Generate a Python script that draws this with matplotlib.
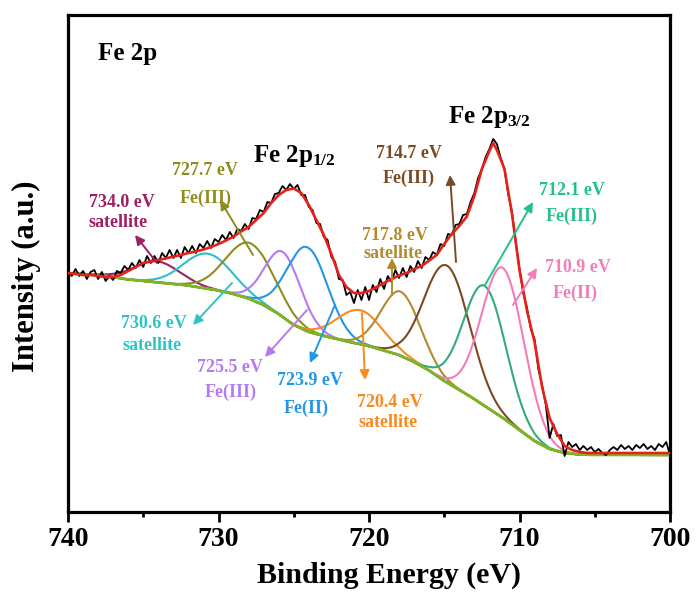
import numpy as np
import matplotlib
matplotlib.use("Agg")
import matplotlib.pyplot as plt

# ---------------- data ----------------
# Shirley-type background (height, arbitrary units) at 1 eV steps
bg_energy = [740, 739, 738, 737, 736, 735, 734, 733, 732, 731, 730, 729, 728, 727, 726,
             725, 724, 723, 722, 721, 720, 719, 718, 717, 716, 715, 714, 713, 712, 711,
             710, 709, 708, 707, 706, 705, 704, 703, 702, 701, 700]
bg_height = [239, 238, 237, 235, 232.5, 231, 229.5, 228, 226.5, 224, 221.5, 218, 213.5, 207, 198,
             187, 180, 176, 172.5, 169, 166, 161.5, 157, 150, 141.5, 131, 122, 113, 103, 93,
             82, 71, 63, 59, 57.5, 57, 57, 57, 57, 57, 57]

# fitted components: centre (eV), height above background, gaussian sigma (eV)
comp_value = ["734.0 eV", "730.6 eV", "727.7 eV", "725.5 eV", "723.9 eV",
              "720.4 eV", "717.8 eV", "714.7 eV", "712.1 eV", "710.9 eV"]
comp_state = ["satellite", "satellite", "Fe(III)", "Fe(III)", "Fe(II)",
              "satellite", "satellite", "Fe(III)", "Fe(III)", "Fe(II)"]
comp_center = [734.1, 730.7, 727.9, 725.7, 724.1, 720.6, 717.9, 714.8, 712.3, 711.1]
comp_height = [21, 35, 56, 65, 84, 34, 64, 117, 120, 150]
comp_sigma = [1.5, 1.6, 1.6, 1.2, 1.35, 1.5, 1.3, 1.5, 1.4, 1.4]

# fitted envelope (red)
env_energy = [740, 739.5, 739, 738.5, 738, 737.5, 737, 736.5, 736, 735.5, 735, 734.5, 734, 733.5,
              733, 732.5, 732, 731.5, 731, 730.5, 730, 729.5, 729, 728.5, 728, 727.5, 727, 726.5,
              726, 725.5, 725, 724.5, 724, 723.5, 723, 722.5, 722, 721.5, 721, 720.5, 720, 719.5,
              719, 718.5, 718, 717.5, 717, 716.5, 716, 715.5, 715, 714.5, 714, 713.5, 713, 712.5,
              712, 711.75, 711.5, 711, 710.5, 710, 709.5, 709, 708.5, 708, 707.5, 707, 706.5, 706,
              705.5, 705, 700]
env_height = [239, 238, 237, 237, 236, 235, 235, 237, 241, 245, 249, 250.5, 252, 253.5,
              255.5, 257, 259, 260.5, 262.5, 265, 268, 271.5, 275.5, 280.5, 285, 292, 299, 309,
              317, 322, 323.5, 319, 307, 292, 277, 258, 237, 225, 219, 219, 221, 225,
              229, 233, 236.5, 239, 243, 246, 251.5, 257, 268, 278, 286, 295.5, 316, 343,
              361, 369, 362, 343, 298, 242, 201, 170, 125, 94, 78, 66, 62, 60,
              59, 59, 59]

# raw spectrum (black), 0.25 eV steps from 740 to 700 eV
raw_energy = np.linspace(740, 700, 161)
raw_height = [241, 236, 243, 236, 241, 233, 240, 242, 233, 240, 231, 236, 232,
              241, 239, 246, 242, 249, 244, 252, 245, 256, 249, 256, 249,
              259, 254, 262, 254, 262, 254, 265, 259, 266, 259, 268, 264,
              271, 264, 273, 270, 277, 272, 280, 274, 283, 281, 288, 283,
              294, 293, 302, 300, 310, 309, 318, 319, 326, 322, 328, 323,
              327, 317, 317, 305, 302, 289, 288, 275, 272, 255, 250, 233,
              232, 217, 220, 209, 222, 212, 225, 212, 227, 220, 233, 223,
              236, 230, 242, 234, 244, 235, 246, 240, 251, 244, 255, 252,
              260, 257, 268, 266, 278, 277, 287, 288, 297, 298, 310, 319,
              334, 343, 355, 363, 373, 368, 354, 343, 318, 300, 270, 243,
              219, 204, 183, 173, 143, 127, 107, 74, 88, 76, 77, 56,
              70, 65, 68, 62, 66, 62, 65, 60, 63, 59, 57, 62,
              65, 62, 67, 63, 66, 62, 67, 64, 68, 63, 66, 62,
              68, 65, 70, 57]

x_ticks = [740, 730, 720, 710, 700]

# ---------------- styling ----------------
curve_colors = ["#9E1F63", "#2EBFCB", "#8E8E1E", "#B57BEE", "#2396E8",
                "#F98A1F", "#B38B2E", "#7A4B22", "#35AA7C", "#F27DB8"]
label_colors = ["#9E1F63", "#2EC4C4", "#8E8E1E", "#B57BEE", "#2396E8",
                "#F98A1F", "#B38B2E", "#7A4B22", "#25C08A", "#F27DB8"]
bg_color = "#7DB71F"

plt.rcParams["font.family"] = ["Liberation Serif", "DejaVu Serif"]
plt.rcParams["font.weight"] = "bold"
plt.rcParams["mathtext.fontset"] = "custom"
plt.rcParams["mathtext.rm"] = "Liberation Serif:bold"
plt.rcParams["mathtext.bf"] = "Liberation Serif:bold"
plt.rcParams["mathtext.it"] = "Liberation Serif:bold:italic"

W, H = 698, 592
fig = plt.figure(figsize=(W / 100, H / 100), dpi=100)
L, R, T, B = 68, 670, 15, 512
ax = fig.add_axes([L / W, (H - B) / H, (R - L) / W, (B - T) / H])


def P(px, py):
    """pixel position in the reference -> data coordinates"""
    return (740 - (px - L) * 40.0 / (R - L), B - py)


E = np.linspace(700, 740, 1601)
bg_fine = np.interp(E, bg_energy[::-1], bg_height[::-1])

for c, h, s, col in zip(comp_center, comp_height, comp_sigma, curve_colors):
    ax.plot(E, bg_fine + h * np.exp(-(E - c) ** 2 / (2 * s ** 2)), color=col, lw=1.5, zorder=2)

ax.plot(E, bg_fine, color=bg_color, lw=2.0, zorder=3)
ax.plot(raw_energy, raw_height, color="black", lw=1.3, zorder=4)
ax.plot(env_energy, env_height, color="#E8201A", lw=1.9, zorder=5)

ax.set_xlim(740, 700)
ax.set_ylim(0, B - T)
ax.set_yticks([])
ax.set_xticks(x_ticks)
ax.set_xticklabels([str(t) for t in x_ticks])
ax.xaxis.set_minor_locator(matplotlib.ticker.MultipleLocator(5))
ax.tick_params(axis="x", which="major", direction="out", length=7, width=2.0,
               pad=4, labelsize=20)
ax.tick_params(axis="x", which="minor", direction="out", length=3.5, width=2.0)
for sp in ax.spines.values():
    sp.set_linewidth(2.3)

ax.set_xlabel("Binding Energy (eV)", fontsize=21.5, fontweight="bold")
ax.xaxis.set_label_coords((389 - L) / (R - L), (B - 562) / (B - T))
ax.xaxis.label.set_va("top")
ax.set_ylabel("Intensity (a.u.)", fontsize=22, fontweight="bold")
ax.yaxis.set_label_coords((41 - L) / (R - L), (B - 276) / (B - T))

# headers
ax.text(*P(98, 60), "Fe 2p", fontsize=18, fontweight="bold", ha="left", va="baseline")
ax.text(*P(253, 162), r"Fe 2p$_{\mathrm{1/2}}$", fontsize=18, ha="left", va="baseline")
ax.text(*P(448, 123), r"Fe 2p$_{\mathrm{3/2}}$", fontsize=18, ha="left", va="baseline")

# component labels: (line1 centre x, baseline y), (line2 centre x, baseline y)
label_pos = [((121.5, 207), (118.5, 227)),
             ((153.5, 328), (152, 350)),
             ((205, 175), (206, 203)),
             ((229.5, 372), (231, 397)),
             ((310, 385), (306.5, 413)),
             ((389.5, 407), (388, 427)),
             ((395, 240), (393, 258)),
             ((408.5, 158), (409, 183)),
             ((571.5, 195), (572, 221)),
             ((577.5, 272), (575, 298))]
# arrows: tail -> head (pixels)
arrow_pos = [((157, 263), (135, 235)),
             ((232, 283), (193, 325)),
             ((253, 255), (220, 200)),
             ((307, 310), (265, 357)),
             ((335, 305), (310, 363)),
             ((362, 313), (365, 380)),
             ((392, 295), (392, 258)),
             ((456, 262), (450, 175)),
             ((485, 285), (533, 202)),
             ((513, 305), (537, 268))]

for val, st, col, (p1, p2), (tail, head) in zip(comp_value, comp_state, label_colors,
                                                label_pos, arrow_pos):
    ax.text(*P(*p1), val, color=col, fontsize=13, fontweight="bold",
            ha="center", va="baseline", zorder=6)
    ax.text(*P(*p2), st, color=col, fontsize=13, fontweight="bold",
            ha="center", va="baseline", zorder=6)
    ax.annotate("", xy=P(*head), xytext=P(*tail),
                arrowprops=dict(arrowstyle="-|>", color=col, lw=1.4,
                                mutation_scale=14, shrinkA=0, shrinkB=0),
                zorder=6)

fig.savefig("out.png", dpi=100)
